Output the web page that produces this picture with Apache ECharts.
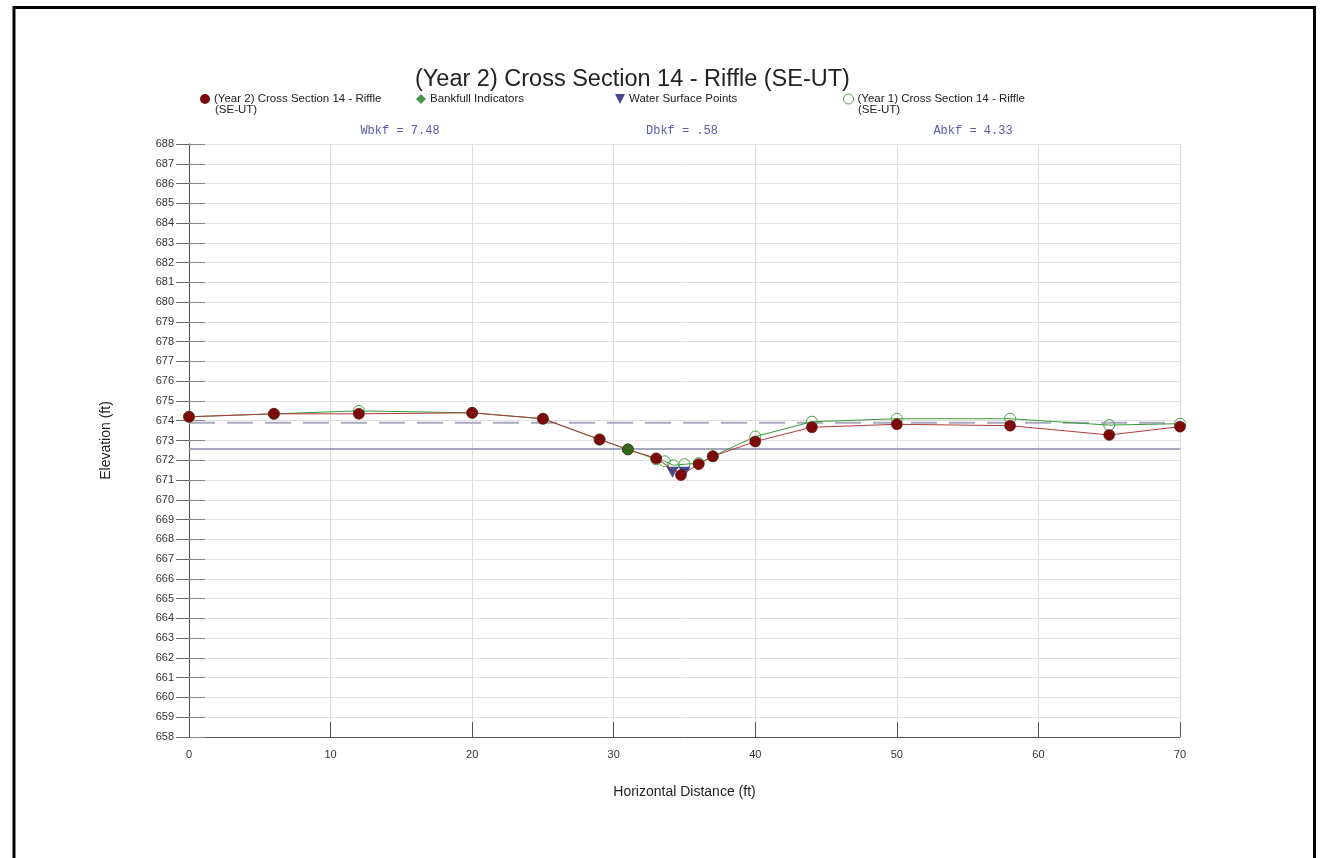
<!DOCTYPE html>
<html>
<head>
<meta charset="utf-8">
<script src="https://cdn.jsdelivr.net/npm/echarts@6/dist/echarts.min.js"></script>
<style>html,body{margin:0;padding:0;background:#fff;}#c{width:1326px;height:858px;}</style>
</head>
<body>
<div id="c"></div>
<script>
// ---- data ----
const year2Station = [0, 6, 12, 20, 25, 29, 31, 33, 34.75, 36, 37, 40, 44, 50, 58, 65, 70];
const year2Elev    = [674.2, 674.35, 674.35, 674.4, 674.1, 673.05, 672.55, 672.1, 671.25, 671.8, 672.2, 672.95, 673.67, 673.82, 673.75, 673.28, 673.7];
const year1Station = [0, 6, 12, 20, 25, 29, 31, 33, 33.6, 34.2, 35.0, 36, 37, 40, 44, 50, 58, 65, 70];
const year1Elev    = [674.2, 674.35, 674.5, 674.4, 674.1, 673.05, 672.55, 672.05, 671.95, 671.75, 671.8, 671.85, 672.2, 673.2, 673.95, 674.1, 674.1, 673.78, 673.85];
const bankfullStation = [31];
const bankfullElev = [672.55];
const wsStation = [34.15, 35.0];
const wsElev = [671.4, 671.4];
const bankfullLineElev = 673.9;
const waterLineElev = 672.57;
const xRange = [0, 70];
const yRange = [658, 688];
const titleText = '(Year 2) Cross Section 14 - Riffle (SE-UT)';
const seriesNames = ['(Year 2) Cross Section 14 - Riffle (SE-UT)', 'Bankfull Indicators', 'Water Surface Points', '(Year 1) Cross Section 14 - Riffle (SE-UT)'];
const annotations = ['Wbkf = 7.48', 'Dbkf = .58', 'Abkf = 4.33'];

const pair = (xs, ys) => xs.map((x, i) => [x, ys[i]]);
const FONT = '"Liberation Sans", Arial, sans-serif';
const MONO = '12px "Liberation Mono", "Courier New", monospace';
const triPath = 'path://M0,0L10,0L5,10Z';
const C_Y2 = '#7d0a0a', C_BF = '#1e7a1e', C_WS = '#1a1a80', C_Y1 = '#45a845';

const chart = echarts.init(document.getElementById('c'), null, {renderer: 'canvas'});

function legendFor(name, left, icon, itemStyle) {
  return {
    left: left, top: 93, itemWidth: 10, itemHeight: 10, itemGap: 0,
    padding: 0, selectedMode: false,
    data: [{name: name, icon: icon, itemStyle: itemStyle}],
    formatter: n => n.replace(' (SE-UT)', ''),
    textStyle: {fontFamily: FONT, fontSize: 11.5, color: '#222', padding: [1, 0, 0, -1]}
  };
}

const yBase = {
  type: 'value', min: yRange[0], max: yRange[1], interval: 1, position: 'left'
};

chart.setOption({
  animation: false,
  backgroundColor: '#fff',
  title: {
    text: titleText, left: 410, top: 63,
    textStyle: {fontFamily: FONT, fontSize: 23.5, fontWeight: 'normal', color: '#222'}
  },
  legend: [
    legendFor(seriesNames[0], 200, 'circle', {color: C_Y2, borderWidth: 0}),
    legendFor(seriesNames[1], 416, 'diamond', {color: C_BF, borderWidth: 0}),
    legendFor(seriesNames[2], 615, triPath, {color: C_WS, borderWidth: 0}),
    legendFor(seriesNames[3], 843, 'circle', {color: '#fff', borderColor: C_Y1, borderWidth: 1})
  ],
  grid: {left: 189, right: 146, top: 144, bottom: 121, containLabel: false},
  xAxis: {
    type: 'value', min: xRange[0], max: xRange[1], interval: 10,
    name: 'Horizontal Distance (ft)', nameLocation: 'middle', nameGap: 48,
    nameTextStyle: {fontFamily: FONT, fontSize: 14, color: '#222'},
    axisLine: {show: true, lineStyle: {color: '#555', width: 1}},
    axisTick: {show: true, inside: true, length: 15, lineStyle: {color: '#555'}},
    axisLabel: {fontFamily: FONT, fontSize: 11, color: '#333', margin: 12},
    splitLine: {show: true, lineStyle: {color: '#dcdcdc', width: 1}}
  },
  yAxis: [
    Object.assign({}, yBase, {
      name: 'Elevation (ft)', nameLocation: 'middle', nameGap: 76, nameRotate: 90,
      nameTextStyle: {fontFamily: FONT, fontSize: 14, color: '#222'},
      axisLine: {show: true, lineStyle: {color: '#555', width: 1}},
      axisTick: {show: true, inside: false, length: 13, lineStyle: {color: '#666'}},
      axisLabel: {fontFamily: FONT, fontSize: 11, color: '#333', margin: 15},
      splitLine: {show: true, lineStyle: {color: '#e2e2e2', width: 1}}
    }),
    Object.assign({}, yBase, {
      axisLine: {show: false},
      axisTick: {show: true, inside: true, length: 16, lineStyle: {color: '#888'}},
      axisLabel: {show: false},
      splitLine: {show: false}
    })
  ],
  graphic: [
    {type: 'rect', shape: {x: 14, y: 7.5, width: 1300.5, height: 880}, style: {fill: 'none', stroke: '#000', lineWidth: 3}, silent: true},
    {type: 'text', left: 215, top: 104, style: {text: '(SE-UT)', font: '11.5px ' + FONT, fill: '#222'}},
    {type: 'text', left: 858, top: 104, style: {text: '(SE-UT)', font: '11.5px ' + FONT, fill: '#222'}},
    {type: 'text', x: 400, y: 131, style: {text: annotations[0], font: MONO, fill: '#5a5aa8', align: 'center', verticalAlign: 'middle'}},
    {type: 'text', x: 682, y: 131, style: {text: annotations[1], font: MONO, fill: '#5a5aa8', align: 'center', verticalAlign: 'middle'}},
    {type: 'text', x: 973, y: 131, style: {text: annotations[2], font: MONO, fill: '#5a5aa8', align: 'center', verticalAlign: 'middle'}}
  ],
  series: [
    {
      name: 'bankfull-line', type: 'line', yAxisIndex: 0, symbol: 'none', silent: true,
      data: [[xRange[0], bankfullLineElev], [xRange[1], bankfullLineElev]],
      lineStyle: {color: '#a8a8be', width: 2, type: [26, 12]}, z: 1
    },
    {
      name: 'water-line', type: 'line', yAxisIndex: 0, symbol: 'none', silent: true,
      data: [[xRange[0], waterLineElev], [xRange[1], waterLineElev]],
      lineStyle: {color: '#8a8aa6', width: 1.5}, z: 1
    },
    {
      name: seriesNames[3], type: 'line', yAxisIndex: 0,
      data: pair(year1Station, year1Elev),
      symbol: 'circle', symbolSize: 11,
      lineStyle: {color: '#3a9a3a', width: 1},
      itemStyle: {color: 'rgba(255,255,255,0)', borderColor: C_Y1, borderWidth: 1},
      z: 2
    },
    {
      name: seriesNames[2], type: 'scatter', yAxisIndex: 0,
      data: pair(wsStation, wsElev),
      symbol: triPath, symbolSize: [12, 11],
      itemStyle: {color: C_WS}, z: 3
    },
    {
      name: seriesNames[0], type: 'line', yAxisIndex: 0,
      data: pair(year2Station, year2Elev),
      symbol: 'circle', symbolSize: 11,
      lineStyle: {color: '#b03a3a', width: 1},
      itemStyle: {color: C_Y2, borderColor: '#5a0505', borderWidth: 0.5},
      z: 4
    },
    {
      name: seriesNames[1], type: 'scatter', yAxisIndex: 0,
      data: pair(bankfullStation, bankfullElev),
      symbol: 'circle', symbolSize: 11,
      itemStyle: {color: C_BF}, z: 5
    }
  ]
});
</script>
</body>
</html>
